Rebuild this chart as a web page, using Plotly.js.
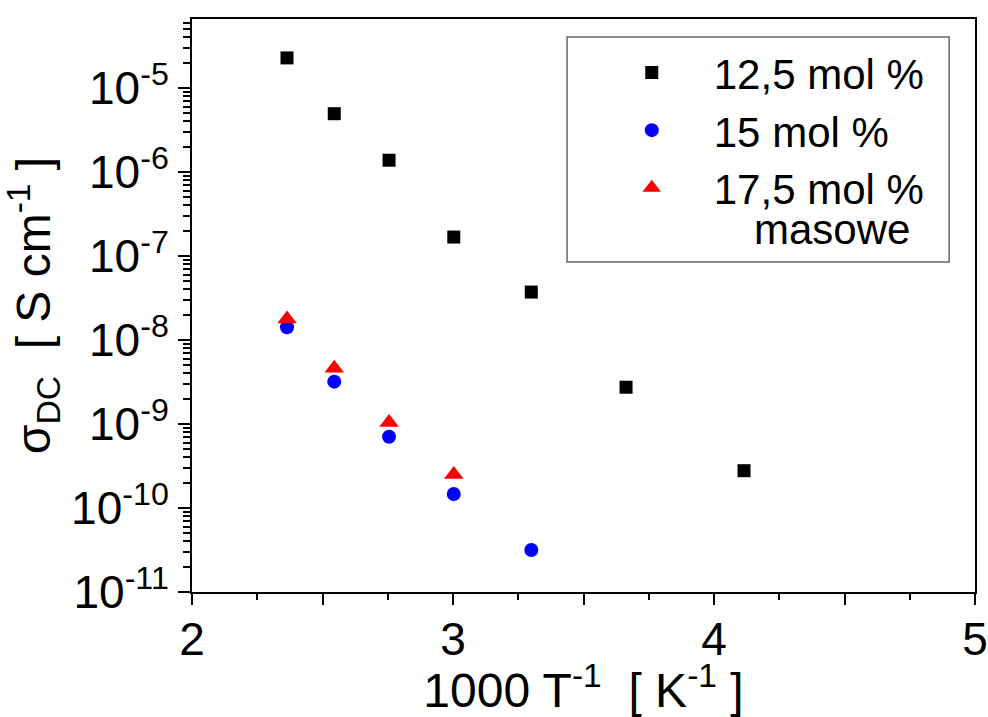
<!DOCTYPE html>
<html>
<head>
<meta charset="utf-8">
<script src="https://cdn.plot.ly/plotly-3.0.1.min.js"></script>
<style>html,body{margin:0;padding:0;background:#fff;}#chart{width:988px;height:717px;}</style>
</head>
<body>
<div id="chart"></div>
<script>
// Data (x = 1000/T in K^-1, y = sigma_DC in S/cm)
const xInvT = [2.364, 2.545, 2.755, 3.003, 3.300, 3.663, 4.115];
const sigma125 = [2.28e-5, 4.94e-6, 1.38e-6, 1.68e-7, 3.72e-8, 2.74e-9, 2.78e-10];
const xInvT15 = [2.364, 2.545, 2.755, 3.003, 3.300];
const sigma15 = [1.42e-8, 3.19e-9, 7.06e-10, 1.47e-10, 3.16e-11];
const xInvT175 = [2.364, 2.545, 2.755, 3.003];
const sigma175 = [1.78e-8, 4.6e-9, 1.04e-9, 2.5e-10];
const seriesNames = ['12,5 mol %', '15 mol %', '17,5 mol %'];
const legendExtra = 'masowe';
const xTickVals = [2, 2.5, 3, 3.5, 4, 4.5, 5];
const xTickText = ['2', '', '3', '', '4', '', '5'];
const yTickVals = [1e-11, 1e-10, 1e-9, 1e-8, 1e-7, 1e-6, 1e-5];
const yTickText = ['10<sup>-11</sup>', '10<sup>-10</sup>', '10<sup>-9</sup>', '10<sup>-8</sup>', '10<sup>-7</sup>', '10<sup>-6</sup>', '10<sup>-5</sup>'];

const FONT = 'Arial, "Liberation Sans", sans-serif';

const traces = [
  {x: xInvT, y: sigma125, name: seriesNames[0], type: 'scatter', mode: 'markers',
   marker: {symbol: 'square', size: 13, color: '#000000'}},
  {x: xInvT15, y: sigma15, name: seriesNames[1], type: 'scatter', mode: 'markers',
   marker: {symbol: 'circle', size: 14, color: '#0000ff'}},
  {x: xInvT175, y: sigma175, name: seriesNames[2], type: 'scatter', mode: 'markers',
   marker: {symbol: 'triangle-up', size: 17, color: '#ff0000'}}
];

const layout = {
  width: 988, height: 717,
  margin: {l: 192, r: 13, t: 19, b: 125},
  paper_bgcolor: '#ffffff', plot_bgcolor: '#ffffff',
  font: {family: FONT, color: '#000000', size: 46},
  showlegend: true,
  legend: {
    x: 0.508, y: 0.9655, xanchor: 'left', yanchor: 'top',
    bgcolor: 'rgba(0,0,0,0)', borderwidth: 0,
    font: {family: FONT, size: 42, color: '#000000'},
    itemwidth: 114, tracegroupgap: 0
  },
  xaxis: {
    type: 'linear', range: [2, 5],
    tickmode: 'array', tickvals: xTickVals, ticktext: xTickText,
    ticks: 'outside', ticklen: 11, tickwidth: 2, tickcolor: '#000',
    ticklabelstandoff: -5,
    minor: {dtick: 0.25, ticks: 'outside', ticklen: 6, tickwidth: 2, tickcolor: '#000', showgrid: false},
    showline: true, linewidth: 2, linecolor: '#000', mirror: true,
    showgrid: false, zeroline: false,
    tickfont: {family: FONT, size: 46},
    title: {text: '1000 T<sup>-1</sup>  [ K<sup>-1</sup> ]', font: {family: FONT, size: 48}, standoff: 12}
  },
  yaxis: {
    type: 'log', range: [-11, -4.179],
    tickmode: 'array', tickvals: yTickVals, ticktext: yTickText,
    ticks: 'outside', ticklen: 12, tickwidth: 2, tickcolor: '#000',
    minor: {dtick: 'D1', ticks: 'outside', ticklen: 7, tickwidth: 2, tickcolor: '#000', showgrid: false},
    showline: true, linewidth: 2, linecolor: '#000', mirror: true,
    showgrid: false, zeroline: false,
    tickfont: {family: FONT, size: 46},
    title: {text: 'σ<sub>DC</sub>  [ S cm<sup>-1</sup> ]', font: {family: FONT, size: 48}, standoff: 8}
  },
  shapes: [
    {type: 'rect', xref: 'paper', yref: 'paper', x0: 0.479, x1: 0.967, y0: 0.5759, y1: 0.9686,
     line: {color: '#666666', width: 1.5}, fillcolor: 'rgba(0,0,0,0)', layer: 'above'}
  ],
  annotations: [
    {text: legendExtra, xref: 'paper', yref: 'paper', x: 0.818, y: 0.632, xanchor: 'center', yanchor: 'middle',
     showarrow: false, font: {family: FONT, size: 42, color: '#000'}}
  ]
};

Plotly.newPlot('chart', traces, layout, {displayModeBar: false, staticPlot: true});
</script>
</body>
</html>
